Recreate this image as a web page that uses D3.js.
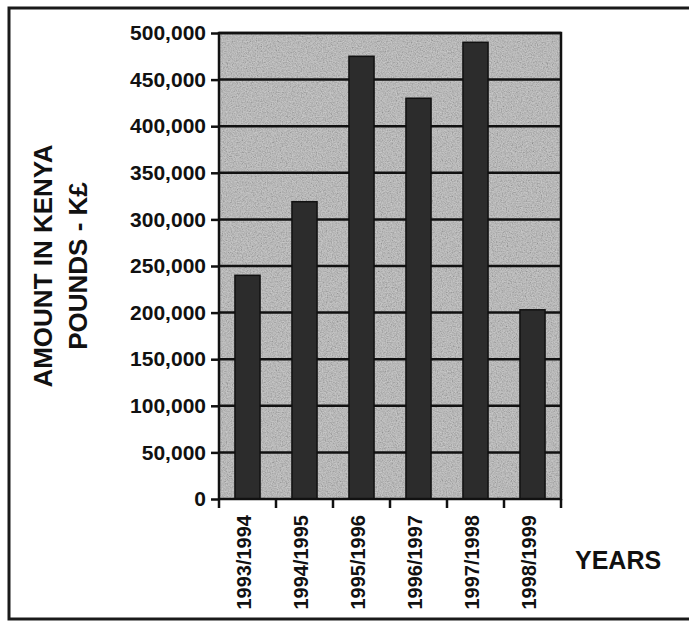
<!DOCTYPE html>
<html>
<head>
<meta charset="utf-8">
<script src="https://cdn.jsdelivr.net/npm/d3@7"></script>
<style>
  body { margin: 0; background: #fff; }
  svg { display: block; font-family: Arial, "Liberation Sans", sans-serif; font-weight: bold; }
</style>
</head>
<body>
<div id="chart"></div>
<script>
// ---------- Data ----------
const years  = ["1993/1994", "1994/1995", "1995/1996", "1996/1997", "1997/1998", "1998/1999"];
const amounts = [240000, 319000, 475000, 430000, 490000, 203000];
const yTicks = [0, 50000, 100000, 150000, 200000, 250000, 300000, 350000, 400000, 450000, 500000];

// ---------- Layout ----------
const width = 689, height = 621;
const plot = { left: 219, right: 561, top: 33, bottom: 499 };

const svg = d3.select("#chart").append("svg")
  .attr("width", width)
  .attr("height", height);

// grainy look of the scan
const defs = svg.append("defs");
const grain = defs.append("filter").attr("id", "grain");
grain.append("feTurbulence")
  .attr("type", "fractalNoise")
  .attr("baseFrequency", 0.8)
  .attr("numOctaves", 2)
  .attr("seed", 3)
  .attr("result", "t");
grain.append("feColorMatrix").attr("in", "t").attr("type", "saturate").attr("values", 0).attr("result", "g");
grain.append("feBlend").attr("in", "SourceGraphic").attr("in2", "g").attr("mode", "multiply").attr("result", "m");
grain.append("feComposite").attr("in", "m").attr("in2", "SourceGraphic").attr("operator", "in");

// ---------- Outer frame ----------
svg.append("rect")
  .attr("x", 9).attr("y", 8)
  .attr("width", 700).attr("height", 611)
  .attr("fill", "none")
  .attr("stroke", "#1a1a1a")
  .attr("stroke-width", 3);

// ---------- Scales ----------
const x = d3.scaleBand()
  .domain(years)
  .range([plot.left, plot.right])
  .paddingInner(0.56)
  .paddingOuter(0.28);

const y = d3.scaleLinear()
  .domain([0, 500000])
  .range([plot.bottom, plot.top]);

// ---------- Plot background ----------
svg.append("rect")
  .attr("x", plot.left).attr("y", plot.top)
  .attr("width", plot.right - plot.left)
  .attr("height", plot.bottom - plot.top)
  .attr("fill", "#d0d0d0")
  .attr("filter", "url(#grain)");

// ---------- Gridlines ----------
svg.append("g")
  .selectAll("line")
  .data(yTicks.filter(d => d > 0))
  .enter()
  .append("line")
  .attr("x1", plot.left).attr("x2", plot.right)
  .attr("y1", d => y(d)).attr("y2", d => y(d))
  .attr("stroke", "#111")
  .attr("stroke-width", 2.5);

// ---------- Bars ----------
svg.append("g")
  .selectAll("rect")
  .data(amounts)
  .enter()
  .append("rect")
  .attr("x", (d, i) => x(years[i]))
  .attr("y", d => y(d))
  .attr("width", x.bandwidth())
  .attr("height", d => y(0) - y(d))
  .attr("fill", "#2c2c2c")
  .attr("stroke", "#111")
  .attr("stroke-width", 1.5);

// ---------- Plot border ----------
svg.append("rect")
  .attr("x", plot.left).attr("y", plot.top)
  .attr("width", plot.right - plot.left)
  .attr("height", plot.bottom - plot.top)
  .attr("fill", "none")
  .attr("stroke", "#111")
  .attr("stroke-width", 2.5);

// ---------- Axes ----------
const yAxis = d3.axisLeft(y)
  .tickValues(yTicks)
  .tickSize(8)
  .tickPadding(5)
  .tickFormat(d3.format(","));

const gy = svg.append("g")
  .attr("transform", `translate(${plot.left},0)`)
  .call(yAxis);
gy.select(".domain").remove();
gy.selectAll(".tick line").attr("stroke", "#111").attr("stroke-width", 2.5);
gy.selectAll(".tick text")
  .attr("fill", "#111")
  .style("font-size", "21px")
  .style("font-family", "Arial, 'Liberation Sans', sans-serif")
  .style("font-weight", "bold");

// x ticks sit on the category boundaries
svg.append("g")
  .selectAll("line")
  .data(d3.range(years.length + 1))
  .enter()
  .append("line")
  .attr("x1", i => plot.left + i * x.step())
  .attr("x2", i => plot.left + i * x.step())
  .attr("y1", plot.bottom)
  .attr("y2", plot.bottom + 9)
  .attr("stroke", "#111")
  .attr("stroke-width", 2.5);

svg.append("g")
  .selectAll("text")
  .data(years)
  .enter()
  .append("text")
  .attr("transform", d => `translate(${x(d) + x.bandwidth() / 2 + 3},515) rotate(-90)`)
  .attr("text-anchor", "end")
  .attr("fill", "#111")
  .style("font-size", "20px")
  .text(d => d);

// ---------- Axis titles ----------
const yTitle = svg.append("g")
  .attr("fill", "#111")
  .style("font-size", "26px");
yTitle.append("text")
  .attr("transform", "translate(52,266) rotate(-90)")
  .attr("text-anchor", "middle")
  .text("AMOUNT IN KENYA");
yTitle.append("text")
  .attr("transform", "translate(87,266) rotate(-90)")
  .attr("text-anchor", "middle")
  .text("POUNDS - K£");

svg.append("text")
  .attr("x", 575).attr("y", 569)
  .attr("fill", "#111")
  .style("font-size", "25px")
  .text("YEARS");
</script>
</body>
</html>
